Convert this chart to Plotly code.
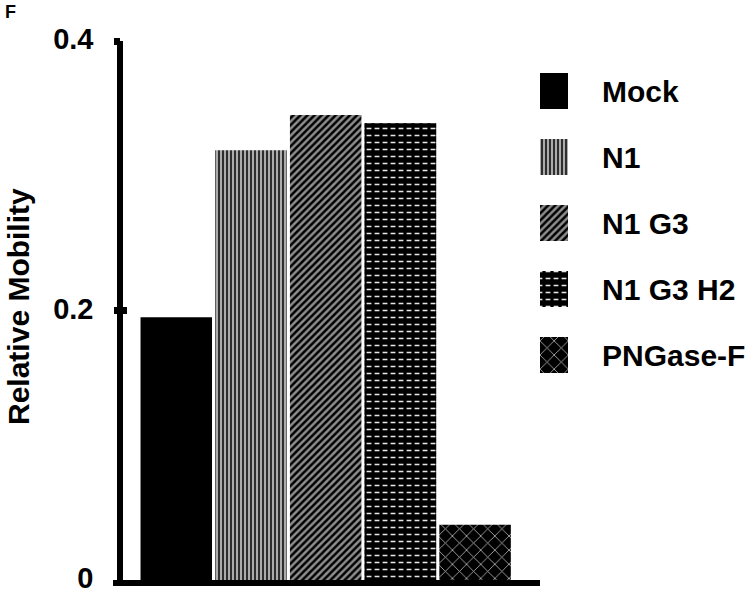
import plotly.graph_objects as go

# ---- data ----
categories = ["Mock", "N1", "N1 G3", "N1 G3 H2", "PNGase-F"]
mobility = [0.195, 0.319, 0.345, 0.339, 0.041]
y_tick_vals = [0, 0.2, 0.4]
y_tick_text = ["0", "0.2", "0.4"]
y_major_marks = [0.2, 0.4]

# ---- styles (one per category) ----
W, H = 756, 601
FONT = "Liberation Sans, Arial, Helvetica, sans-serif"
styles = {
    "Mock":     dict(color="#000000", shape="",  fg="#000000", bg="#000000", size=8,  solid=0.3),
    "N1":       dict(color="#ffffff", shape="|", fg="#2e2e2e", bg="#ffffff", size=4,  solid=0.7),
    "N1 G3":    dict(color="#8e8e8e", shape="/", fg="#000000", bg="#8e8e8e", size=5,  solid=0.5),
    "N1 G3 H2": dict(color="#000000", shape="-", fg="#e6e6e6", bg="#000000", size=7,  solid=0.22),
    "PNGase-F": dict(color="#000000", shape="x", fg="#b4b4b4", bg="#000000", size=10, solid=0.16),
}
dashed = "N1 G3 H2"   # gets vertical black breaks to turn its lines into dashes


def px_x(p):
    return p / W


def px_y(p):
    return (H - p) / H


def marker_for(cat):
    s = styles[cat]
    m = dict(color=s["color"], line=dict(width=0))
    if s["shape"]:
        m["pattern"] = dict(shape=s["shape"], fgcolor=s["fg"], bgcolor=s["bg"],
                            size=s["size"], solidity=s["solid"], fillmode="replace")
    return m


breaker = dict(color="rgba(0,0,0,0)", line=dict(width=0),
               pattern=dict(shape="|", fgcolor="#000000", size=8,
                            solidity=0.4, fillmode="replace"))

fig = go.Figure()

for cat, val in zip(categories, mobility):
    # main bar
    fig.add_trace(go.Bar(x=[cat], y=[val], width=0.957, marker=marker_for(cat),
                         xaxis="x", yaxis="y", showlegend=False, name=cat))
    if cat == dashed:
        fig.add_trace(go.Bar(x=[cat], y=[val], width=0.957, marker=breaker,
                             xaxis="x", yaxis="y", showlegend=False, hoverinfo="skip"))
    # legend swatch
    fig.add_trace(go.Bar(y=[cat], x=[1], orientation="h", width=0.545,
                         marker=marker_for(cat), xaxis="x2", yaxis="y2",
                         showlegend=False, hoverinfo="skip"))
    if cat == dashed:
        fig.add_trace(go.Bar(y=[cat], x=[1], orientation="h", width=0.545,
                             marker=breaker, xaxis="x2", yaxis="y2",
                             showlegend=False, hoverinfo="skip"))

# invisible traces so the overlay tick axes are drawn
for ya in ("y3", "y4"):
    fig.add_trace(go.Scatter(x=[categories[0]], y=[0], yaxis=ya, xaxis="x",
                             mode="markers", marker=dict(opacity=0),
                             showlegend=False, hoverinfo="skip"))

ypos = px_x(120.3)
ydom = [px_y(580), px_y(41)]
tickfont = dict(family=FONT, size=29, color="black", weight=700)
common = dict(automargin=False, showgrid=False, zeroline=False, fixedrange=True)

fig.update_layout(
    width=W, height=H,
    margin=dict(l=0, r=0, t=0, b=0, pad=0),
    paper_bgcolor="white", plot_bgcolor="rgba(0,0,0,0)",
    barmode="overlay",
    showlegend=False,
    font=dict(family=FONT, color="black"),
    xaxis=dict(domain=[px_x(113), px_x(540)], type="category",
               categoryorder="array", categoryarray=categories,
               range=[-0.847, 4.869], anchor="y",
               showline=True, linewidth=6, linecolor="black",
               showticklabels=False, ticks="", **common),
    yaxis=dict(domain=ydom, range=[0, 0.4], anchor="free", position=ypos,
               showline=True, linewidth=6, linecolor="black",
               tickvals=y_tick_vals, ticktext=y_tick_text, ticks="",
               tickfont=tickfont, ticklabelstandoff=18, ticklabelshift=-2,
               **common),
    yaxis3=dict(domain=ydom, range=[0, 0.4], anchor="free", position=ypos,
                overlaying="y", showline=False, tickvals=y_major_marks,
                ticks="outside", ticklen=6, tickwidth=7, tickcolor="black",
                showticklabels=False, **common),
    yaxis4=dict(domain=ydom, range=[0, 0.4], anchor="free", position=ypos,
                overlaying="y", showline=False, tickvals=y_major_marks,
                ticks="inside", ticklen=6, tickwidth=7, tickcolor="black",
                showticklabels=False, **common),
    xaxis2=dict(domain=[px_x(540), px_x(568)], range=[0, 1], anchor="y2",
                visible=False, **common),
    yaxis2=dict(domain=[px_y(388), px_y(58)], anchor="x2", side="right",
                type="category", categoryorder="array", categoryarray=categories,
                range=[4.5, -0.5], showline=False, ticks="",
                tickfont=dict(family=FONT, size=30, color="black", weight=700),
                ticklabelstandoff=33, **common),
    annotations=[
        dict(text="Relative Mobility", xref="paper", yref="paper",
             x=px_x(18), y=px_y(307), xanchor="center", yanchor="middle",
             textangle=-90, showarrow=False,
             font=dict(family=FONT, size=30, color="black", weight=700)),
        dict(text="F", xref="paper", yref="paper",
             x=px_x(10), y=px_y(12.5), xanchor="center", yanchor="middle",
             showarrow=False,
             font=dict(family=FONT, size=18, color="black", weight=700)),
    ],
)

fig.write_html("out.html", config={"displayModeBar": False},
               post_script="document.body.style.margin='0px';")
